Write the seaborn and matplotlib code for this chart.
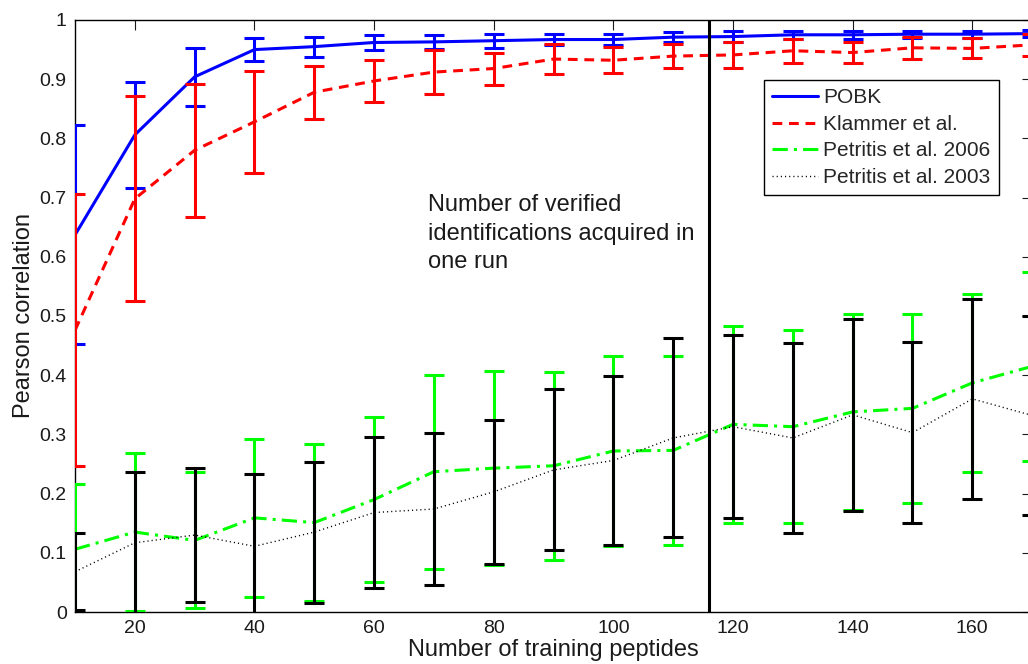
import numpy as np
import pandas as pd
import matplotlib
matplotlib.use("Agg")
import matplotlib.pyplot as plt
import seaborn as sns

# Training set sizes
n_peptides = [10, 20, 30, 40, 50, 60, 70, 80, 90, 100, 110, 120, 130, 140, 150, 160, 170]

# Mean Pearson correlation and error for each method
pobk_mean = [0.637, 0.806, 0.904, 0.950, 0.955, 0.962, 0.963, 0.965, 0.967, 0.967, 0.971, 0.972, 0.975, 0.975, 0.976, 0.976, 0.977]
pobk_err = [0.185, 0.090, 0.049, 0.019, 0.017, 0.013, 0.012, 0.012, 0.010, 0.010, 0.009, 0.009, 0.007, 0.007, 0.006, 0.006, 0.006]

klammer_mean = [0.476, 0.698, 0.780, 0.828, 0.878, 0.897, 0.912, 0.918, 0.934, 0.932, 0.939, 0.941, 0.948, 0.945, 0.953, 0.952, 0.958]
klammer_err = [0.230, 0.173, 0.112, 0.086, 0.045, 0.035, 0.037, 0.027, 0.025, 0.022, 0.020, 0.022, 0.020, 0.017, 0.019, 0.017, 0.018]

petritis06_mean = [0.106, 0.135, 0.121, 0.159, 0.151, 0.190, 0.237, 0.243, 0.247, 0.272, 0.273, 0.317, 0.313, 0.338, 0.344, 0.387, 0.415]
petritis06_err = [0.111, 0.134, 0.115, 0.133, 0.132, 0.140, 0.164, 0.164, 0.159, 0.160, 0.159, 0.166, 0.163, 0.165, 0.160, 0.151, 0.160]

petritis03_mean = [0.068, 0.117, 0.130, 0.111, 0.135, 0.168, 0.174, 0.203, 0.240, 0.256, 0.294, 0.313, 0.294, 0.333, 0.303, 0.360, 0.332]
petritis03_err = [0.065, 0.119, 0.113, 0.122, 0.119, 0.128, 0.128, 0.122, 0.136, 0.143, 0.168, 0.155, 0.161, 0.162, 0.153, 0.169, 0.168]

series_names = ["POBK", "Klammer et al.", "Petritis et al. 2006", "Petritis et al. 2003"]
y_ticks = [0, 0.1, 0.2, 0.3, 0.4, 0.5, 0.6, 0.7, 0.8, 0.9, 1]
y_tick_labels = ["0", "0.1", "0.2", "0.3", "0.4", "0.5", "0.6", "0.7", "0.8", "0.9", "1"]
x_ticks = [20, 40, 60, 80, 100, 120, 140, 160]
one_run_size = 116
note_text = "Number of verified\nidentifications acquired in\none run"

sns.set_style("white")
plt.rcParams["font.family"] = ["Liberation Sans", "DejaVu Sans"]

fig = plt.figure(figsize=(10.28, 6.64), dpi=100)
ax = fig.add_axes([0.073, 0.0783, 0.931, 0.8916])

styles = [
    dict(color="#0000ff", linestyle="-", lw=2.2),
    dict(color="#ff0000", linestyle=(0, (3.2, 2.2)), lw=2.2),
    dict(color="#00ff00", linestyle=(0, (5, 2, 1, 2)), lw=2.2),
    dict(color="#000000", linestyle=(0, (0.8, 2.2)), lw=1.0),
]
means = [pobk_mean, klammer_mean, petritis06_mean, petritis03_mean]
errs = [pobk_err, klammer_err, petritis06_err, petritis03_err]

for i, (name, m, e, st) in enumerate(zip(series_names, means, errs, styles)):
    df = pd.DataFrame({"n": n_peptides, "r": m})
    sns.lineplot(data=df, x="n", y="r", ax=ax, color=st["color"],
                 linestyle=st["linestyle"], linewidth=st["lw"], label=name,
                 zorder=3 + i)
    ax.errorbar(n_peptides, m, yerr=e, fmt="none", ecolor=st["color"],
                elinewidth=2.2, capsize=7, capthick=2.2, zorder=3 + i)

ax.axvline(one_run_size, color="black", lw=2.2, zorder=10)

ax.text(69, 0.706, note_text, fontsize=17, va="top", ha="left",
        linespacing=1.38, color="#1a1a1a")

ax.set_xlim(10, 170)
ax.set_ylim(0, 1)
ax.set_xticks(x_ticks)
ax.set_xticklabels([str(t) for t in x_ticks])
ax.set_yticks(y_ticks)
ax.set_yticklabels(y_tick_labels)
ax.tick_params(direction="in", length=7, width=0.8, labelsize=14,
               top=True, right=True, colors="#1a1a1a", labelcolor="#1a1a1a", pad=6)
for sp in ax.spines.values():
    sp.set_color("black")
    sp.set_linewidth(1.0)

ax.set_xlabel("Number of training peptides", fontsize=17, labelpad=1, color="#1a1a1a")
ax.set_ylabel("Pearson correlation", fontsize=17, labelpad=3, color="#1a1a1a")

leg = ax.legend(loc="upper left", bbox_to_anchor=(764 / 1028, 1 - 80 / 664),
                bbox_transform=fig.transFigure, fontsize=15, frameon=True,
                fancybox=False, edgecolor="black", framealpha=1,
                handlelength=2.2, handletextpad=0.25, borderpad=0.4,
                labelspacing=0.36, borderaxespad=0)
leg.get_frame().set_linewidth(1.0)
leg.set_zorder(20)

fig.savefig("out.png", dpi=100)
